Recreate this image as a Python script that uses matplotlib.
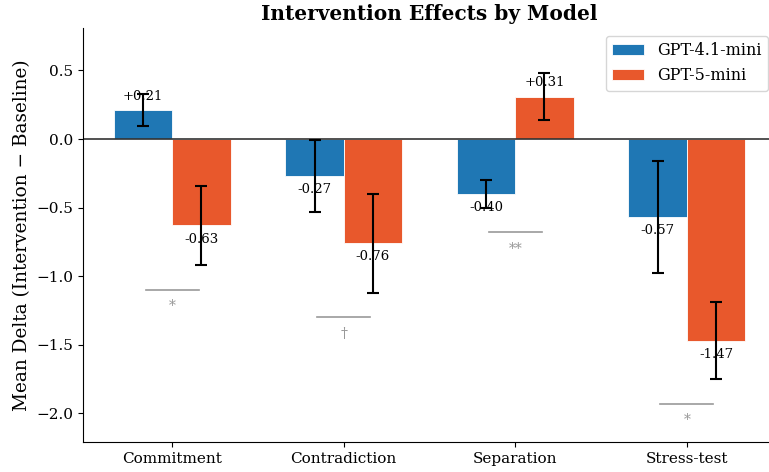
import matplotlib
matplotlib.use("Agg")
import matplotlib.pyplot as plt
import numpy as np

plt.rcParams['font.family'] = ['DejaVu Serif']

categories = ["Commitment", "Contradiction", "Separation", "Stress-test"]
models = ["GPT-4.1-mini", "GPT-5-mini"]
gpt41_vals = [0.21, -0.27, -0.40, -0.57]
gpt41_err = [0.115, 0.26, 0.10, 0.41]
gpt5_vals = [-0.63, -0.76, 0.31, -1.47]
gpt5_err = [0.29, 0.36, 0.17, 0.28]
sig_marks = ["*", "†", "**", "*"]
colors = ["#1f77b4", "#e8582c"]

fig = plt.figure(figsize=(7.69, 4.72), dpi=100)
ax = fig.add_axes([83/769, 30/472, (776-83)/769, (442-28)/472])

x = np.arange(len(categories))
w = 0.34
series = [(gpt41_vals, gpt41_err), (gpt5_vals, gpt5_err)]
for i, (vals, errs) in enumerate(series):
    pos = x + (i - 0.5) * w
    ax.bar(pos, vals, w, yerr=errs, color=colors[i], edgecolor="white", linewidth=0.6,
           label=models[i], capsize=4, error_kw=dict(elinewidth=1.5, capthick=1.5, ecolor="black"))
    for p, v in zip(pos, vals):
        txt = f"+{v:.2f}" if v > 0 else f"{v:.2f}"
        ax.text(p, v + (0.1 if v > 0 else -0.1), txt, ha="center", va="center", fontsize=9.5)

for xi, mark in enumerate(sig_marks):
    low = min(gpt41_vals[xi] - gpt41_err[xi], gpt5_vals[xi] - gpt5_err[xi])
    y = low - 0.18
    ax.plot([xi - 0.155, xi + 0.155], [y, y], color="#999999", linewidth=1.2)
    ax.text(xi, y - 0.12, mark, ha="center", va="center", fontsize=10, color="#999999")

ax.axhline(0, color="#333333", linewidth=1.2, zorder=1)
ax.set_xlim(-0.52, 3.52)
ax.set_ylim(-2.21, 0.81)
ax.set_xticks(x)
ax.set_xticklabels(categories, fontsize=11)
ax.set_yticks([0.5, 0.0, -0.5, -1.0, -1.5, -2.0])
ax.tick_params(axis="y", labelsize=11)
ax.set_ylabel("Mean Delta (Intervention − Baseline)", fontsize=13.3)
ax.set_title("Intervention Effects by Model", fontsize=14.5, fontweight="bold")
ax.spines["top"].set_visible(False)
ax.spines["right"].set_visible(False)
ax.legend(loc="upper right", fontsize=11.5)

fig.savefig("out.png", dpi=100)
